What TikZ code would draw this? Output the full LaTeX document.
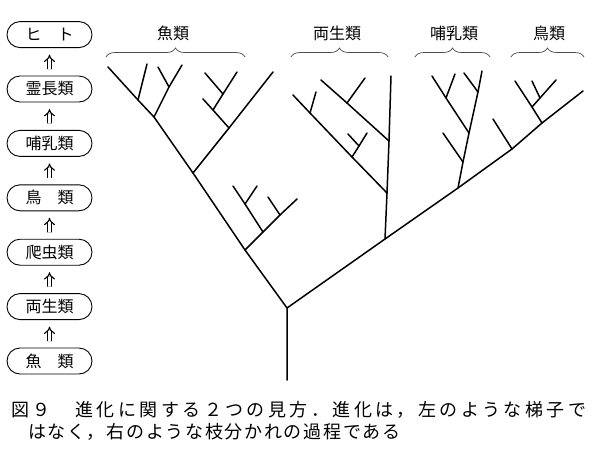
\documentclass[tikz,border=0pt]{standalone}
\usepackage{fontspec}
\setmainfont{Noto Sans CJK JP}
\newfontfamily\capfonta[LetterSpace=19]{Noto Sans CJK JP}
\newfontfamily\capfontb[LetterSpace=9.5]{Noto Sans CJK JP}
\usetikzlibrary{positioning}
\usetikzlibrary{shapes.misc}
\usetikzlibrary{arrows.meta}
\usetikzlibrary{decorations.pathreplacing}

\begin{document}
\begin{tikzpicture}[x=1pt,y=-1pt,semithick]
	\tikzstyle{box}=[rounded rectangle,draw=black,line width=0.9pt,minimum width=85pt,minimum height=26pt,inner sep=0pt,font=\fontsize{16}{16}\selectfont]
	\tikzstyle{up}=[double,double distance=2.6pt,line width=1.1pt,-{Implies},shorten <=6.5pt,shorten >=6.5pt]
	\tikzstyle{br}=[line width=1.5pt,line cap=round,line join=round]
	\tikzstyle{grp}=[decorate,decoration={brace,amplitude=9pt},line width=0.7pt,draw=black!70]
	\tikzstyle{lab}=[font=\fontsize{16}{16}\selectfont]
	\useasboundingbox[fill=white] (0,0) rectangle (600,453);
	% ladder
	\node[box]    (s1) at (49.5,361)                     {魚　類};
	\node[box]    (s2)[above of=s1,node distance=54.4pt] {両生類};
	\node[box]    (s3)[above of=s2,node distance=54.4pt] {爬虫類};
	\node[box]    (s4)[above of=s3,node distance=54.4pt] {鳥　類};
	\node[box]    (s5)[above of=s4,node distance=54.4pt] {哺乳類};
	\node[box]    (s6)[above of=s5,node distance=54.4pt] {霊長類};
	\node[box]    (s7)[above of=s6,node distance=54.4pt] {ヒ　ト};
	\foreach \a/\b in {s1/s2,s2/s3,s3/s4,s4/s5,s5/s6,s6/s7}
		\draw[up] (\a) -- (\b);
	% tree points
	\foreach \n/\x/\y in {base/287/380, r0/287/308,
			f1/245/250, f2/193/173, f3/154/117, f4/138/100, ft/108/67, f4t/147/64,
			f3t/182/65, f5/169/87, f5t/158/67,
			f2t/273/72, d1/229/128, d1t/203/99, e1/213/110, e1t/237/72, e2/223/94, e2t/205/73,
			f1t/297/199, g1/263/232, g1t/233/186, g2/280/215, g2t/268/197, g3/245/204, g3t/257/186,
			a0/385/239, a0t/391/76, a1/387/193, a1t/293/95, b1/310/113, b1t/316/92,
			b2/352/157, b2t/367/133, b3/359/146, b3t/348/134, a2/389/141, a2t/321/80, c1/347/103, c1t/365/78,
			m0/458/188, m0t/482/71, m1/469/133, m1t/432/76, m2/446/98, m2t/455/74,
			m3/478/92, m3t/464/73, m4/463/162, m4t/443/133,
			k0/512/149, k0t/493/119, k1/542/123, kt/583/91, k1t/515/81,
			k2/532/107, k2t/556/80, k3/540/98, k3t/532/81}
		\coordinate (\n) at (\x,\y);
	% fish
	\draw[br] (base) -- (r0) -- (f1) -- (f2) -- (f3) -- (f4) -- (ft);
	\draw[br] (f4) -- (f4t);
	\draw[br] (f3) -- (f5) -- (f3t);
	\draw[br] (f5) -- (f5t);
	\draw[br] (f2) -- (d1) -- (f2t);
	\draw[br] (d1) -- (e1) -- (d1t);
	\draw[br] (e1) -- (e2) -- (e1t);
	\draw[br] (e2) -- (e2t);
	\draw[br] (f1) -- (g1) -- (g2) -- (f1t);
	\draw[br] (g1) -- (g3) -- (g1t);
	\draw[br] (g3) -- (g3t);
	\draw[br] (g2) -- (g2t);
	% amphibians
	\draw[br] (r0) -- (a0) -- (m0) -- (k0) -- (k1) -- (kt);
	\draw[br] (a0) -- (a1) -- (a2) -- (a0t);
	\draw[br] (a1) -- (b2) -- (b1) -- (a1t);
	\draw[br] (b1) -- (b1t);
	\draw[br] (b2) -- (b3) -- (b2t);
	\draw[br] (b3) -- (b3t);
	\draw[br] (a2) -- (c1) -- (a2t);
	\draw[br] (c1) -- (c1t);
	% mammals
	\draw[br] (m0) -- (m4) -- (m1) -- (m3) -- (m0t);
	\draw[br] (m1) -- (m2) -- (m1t);
	\draw[br] (m2) -- (m2t);
	\draw[br] (m3) -- (m3t);
	\draw[br] (m4) -- (m4t);
	% birds
	\draw[br] (k0) -- (k0t);
	\draw[br] (k1) -- (k2) -- (k1t);
	\draw[br] (k2) -- (k3) -- (k2t);
	\draw[br] (k3) -- (k3t);
	% groups
	\node[lab] (gfish) at (173,33) {魚類};
	\node[lab] (gamph) at (337,33) {両生類};
	\node[lab] (gmamm) at (454,33) {哺乳類};
	\node[lab] (gbird) at (549,33) {鳥類};
	\draw[grp] (106,57) -- (245,57);
	\draw[grp] (291,57) -- (388,57);
	\draw[grp] (415,57) -- (490,57);
	\draw[grp] (511,57) -- (584,57);
	% caption
	\node[anchor=west,inner sep=0pt,font=\fontsize{18}{18}\capfonta] (cap1) at (11,410)
		{図９　進化に関する２つの見方．進化は，左のような梯子で};
	\node[anchor=west,inner sep=0pt,font=\fontsize{18}{18}\capfontb] (cap2) at (28,432)
		{はなく，右のような枝分かれの過程である};
\end{tikzpicture}
\end{document}
